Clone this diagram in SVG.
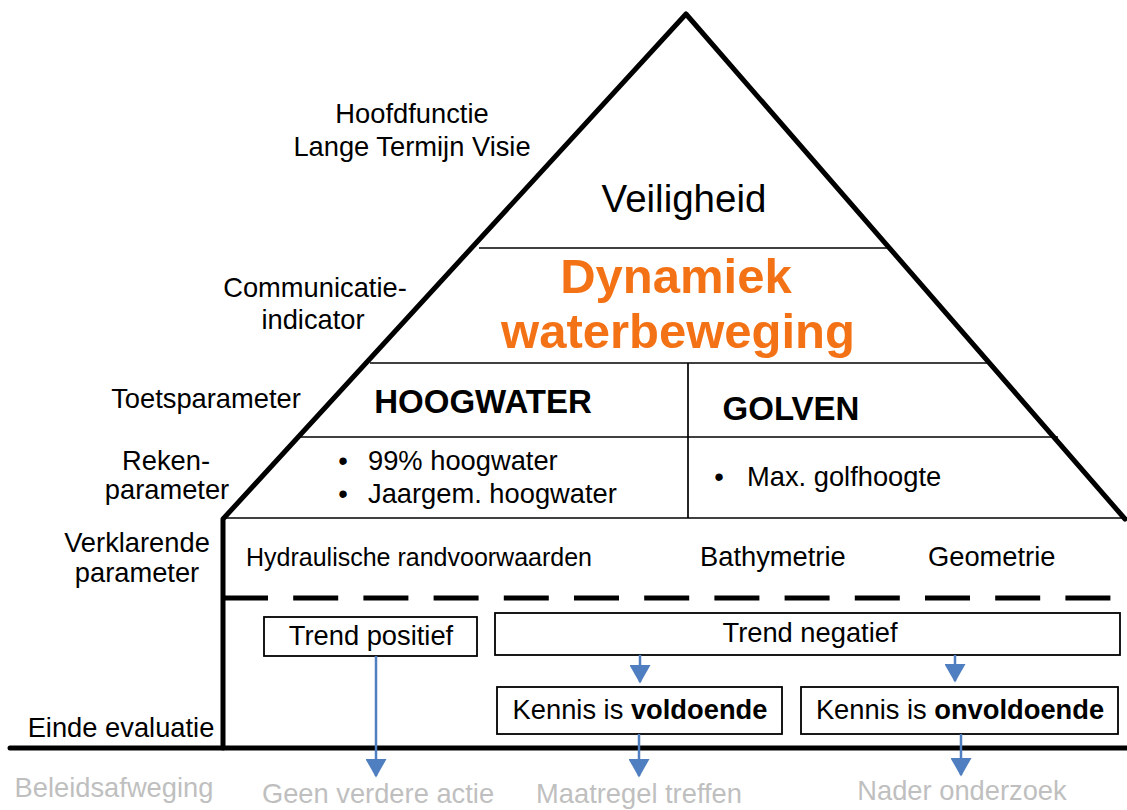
<svg xmlns="http://www.w3.org/2000/svg" width="1127" height="810" viewBox="0 0 1127 810">
<style>
text{font-family:"Liberation Sans",Arial,sans-serif;fill:#000}
.lbl{font-size:27.3px;text-anchor:middle}
.body{font-size:27.3px}
.grey{font-size:27.3px;fill:#bfbfbf;text-anchor:middle}
.thick{stroke:#000;stroke-width:5;fill:none;stroke-linecap:round;stroke-linejoin:round}
.thin{stroke:#000;stroke-width:1.7;fill:none}
.box{stroke:#000;stroke-width:1.8;fill:#fff}
.conn{stroke:#4f7fc0;stroke-width:2.5;fill:none}
</style>
<defs>
<marker id="ah" markerWidth="8.4" markerHeight="8.4" refX="6.8" refY="4.2" orient="auto" markerUnits="strokeWidth" viewBox="0 0 8.4 8.4">
<path d="M0,0 L7.4,4.2 L0,8.4 z" fill="#4f7fc0"/>
</marker>
</defs>

<g id="pyramid">
<path class="thick" d="M10,748 L1127,748"/>
<path class="thick" d="M223,748 L223,519 L686,14 L1125,519"/>
<line class="thin" x1="479" y1="248" x2="888" y2="248"/>
<line class="thin" x1="370" y1="363" x2="990" y2="363"/>
<line class="thin" x1="300" y1="437" x2="1058" y2="437"/>
<line class="thin" x1="223" y1="518" x2="1127" y2="518"/>
<line class="thin" x1="688" y1="363" x2="688" y2="518"/>
<line x1="223" y1="598" x2="1114" y2="598" stroke="#000" stroke-width="5" stroke-dasharray="45,25.2"/>
</g>

<g id="labels-left">
<text class="lbl" x="412" y="123">Hoofdfunctie</text>
<text class="lbl" x="412" y="156">Lange Termijn Visie</text>
<text class="lbl" x="315" y="297">Communicatie-</text>
<text class="lbl" x="313" y="329">indicator</text>
<text class="lbl" x="206" y="408">Toetsparameter</text>
<text class="lbl" x="166" y="470">Reken-</text>
<text class="lbl" x="167" y="499">parameter</text>
<text class="lbl" x="137" y="552">Verklarende</text>
<text class="lbl" x="137" y="582">parameter</text>
<text class="lbl" x="121" y="737">Einde evaluatie</text>
</g>

<g id="veiligheid"><text x="684" y="212" font-size="38.5" text-anchor="middle">Veiligheid</text></g>
<g id="dynamiek">
<text x="676" y="293" font-size="49" font-weight="bold" text-anchor="middle" style="fill:#f47216">Dynamiek</text>
<text x="678" y="348" font-size="49" font-weight="bold" text-anchor="middle" style="fill:#f47216">waterbeweging</text>
</g>
<g id="hoogwater"><text x="483" y="413" font-size="33" font-weight="bold" text-anchor="middle">HOOGWATER</text></g>
<g id="golven"><text x="791" y="420" font-size="33" font-weight="bold" text-anchor="middle">GOLVEN</text></g>
<g id="reken-hoogwater">
<text class="body" x="343" y="470" text-anchor="middle">•</text><text class="body" x="368" y="470">99% hoogwater</text>
<text class="body" x="343" y="503" text-anchor="middle">•</text><text class="body" x="368" y="503">Jaargem. hoogwater</text>
</g>
<g id="reken-golven">
<text class="body" x="719" y="486" text-anchor="middle">•</text><text class="body" x="747" y="486">Max. golfhoogte</text>
</g>
<g id="verklarend">
<text class="body" x="246" y="566" style="font-size:25px">Hydraulische randvoorwaarden</text>
<text class="body" x="700" y="566">Bathymetrie</text>
<text class="body" x="928" y="566">Geometrie</text>
</g>

<g id="trend-positief">
<rect class="box" x="264" y="617" width="213" height="39"/>
<text class="lbl" x="371" y="645">Trend positief</text>
</g>
<g id="trend-negatief">
<rect class="box" x="495" y="613" width="625" height="42"/>
<text class="lbl" x="810" y="642">Trend negatief</text>
</g>
<g id="kennis-voldoende">
<rect class="box" x="497" y="687" width="285" height="47"/>
<text class="lbl" x="640" y="719">Kennis is <tspan font-weight="bold">voldoende</tspan></text>
</g>
<g id="kennis-onvoldoende">
<rect class="box" x="801" y="687" width="317" height="47"/>
<text class="lbl" x="960" y="719">Kennis is <tspan font-weight="bold">onvoldoende</tspan></text>
</g>

<g id="connectors">
<line class="conn" x1="376" y1="656" x2="376" y2="776" marker-end="url(#ah)"/>
<line class="conn" x1="640" y1="655" x2="640" y2="682" marker-end="url(#ah)"/>
<line class="conn" x1="955" y1="655" x2="955" y2="681" marker-end="url(#ah)"/>
<line class="conn" x1="639" y1="734" x2="639" y2="776" marker-end="url(#ah)"/>
<line class="conn" x1="961" y1="734" x2="961" y2="775" marker-end="url(#ah)"/>
</g>

<g id="outcomes">
<text class="grey" x="114" y="797">Beleidsafweging</text>
<text class="grey" x="378" y="803">Geen verdere actie</text>
<text class="grey" x="639" y="803">Maatregel treffen</text>
<text class="grey" x="962" y="800">Nader onderzoek</text>
</g>
</svg>
